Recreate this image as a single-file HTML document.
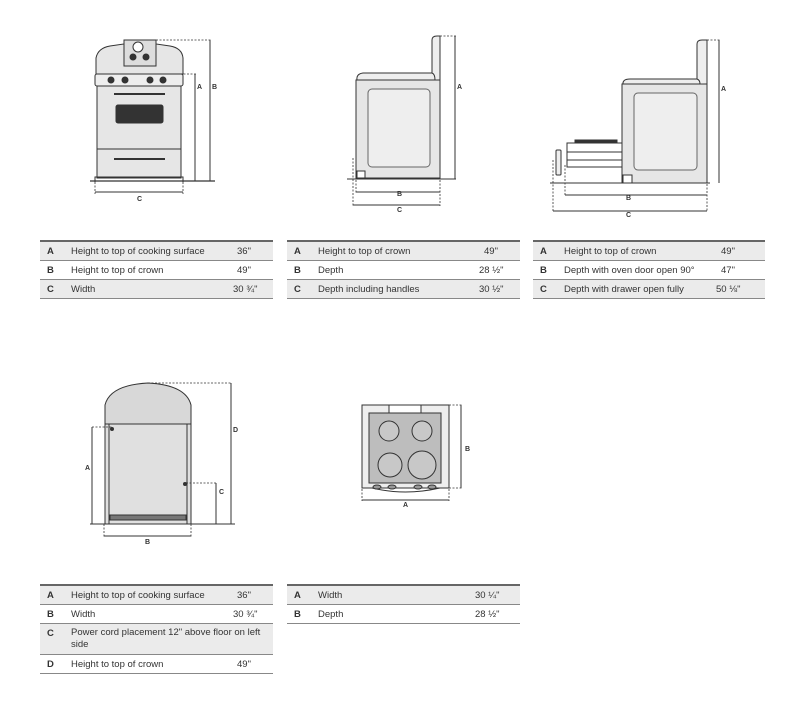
<!DOCTYPE html>
<html><head><style>
body{margin:0;width:800px;height:705px;background:#fff;font-family:"Liberation Sans",sans-serif;position:relative;overflow:hidden}
svg{position:absolute;left:0;top:0}
.t{position:absolute;border-top:2px solid #666;font-size:9.5px;color:#333}
.r{position:relative;height:19px;border-bottom:1.5px solid #888;box-sizing:border-box}
.g{background:#ebebeb}
.r span{position:absolute;top:4px}
.k{left:7px;font-weight:bold}
.l{left:31px}
</style></head><body>
<svg width="800" height="705" viewBox="0 0 800 705" font-family="Liberation Sans" font-size="7" fill="none" stroke="#333">
<!-- Drawing 1 -->
<g stroke-width="1">
<path d="M96 74 L96 58 Q98 48 110 46 L124 44 L124 40 L156 40 L156 44 L170 46 Q182 48 183 58 L183 74 Z" fill="#e6e6e6"/>
<rect x="124" y="40" width="32" height="26" fill="#ddd"/>
<circle cx="138" cy="47" r="5" fill="#fff"/>
<circle cx="133" cy="57" r="3" fill="#333"/><circle cx="146" cy="57" r="3" fill="#333"/>
<rect x="95" y="74" width="88" height="12" rx="2" fill="#eee"/>
<circle cx="111" cy="80" r="3" fill="#333"/><circle cx="125" cy="80" r="3" fill="#333"/><circle cx="150" cy="80" r="3" fill="#333"/><circle cx="163" cy="80" r="3" fill="#333"/>
<rect x="97" y="86" width="84" height="63" fill="#e6e6e6"/>
<line x1="114" y1="94" x2="165" y2="94" stroke-width="2"/>
<rect x="116" y="105" width="47" height="18" rx="2" fill="#333"/>
<rect x="97" y="149" width="84" height="29" fill="#e6e6e6"/>
<line x1="114" y1="159" x2="165" y2="159" stroke-width="2"/>
<path d="M95 182 L95 177 L183 177 L183 182"/>
<line x1="90" y1="181" x2="215" y2="181" stroke-width="1.2"/>
</g>
<g stroke-dasharray="2,1.5" stroke-width="0.8"><line x1="156" y1="40" x2="212" y2="40"/><line x1="180" y1="74" x2="197" y2="74"/><line x1="95" y1="182" x2="95" y2="194"/><line x1="183" y1="182" x2="183" y2="194"/></g>
<g stroke-width="1"><line x1="195" y1="74" x2="195" y2="181"/><line x1="210" y1="40" x2="210" y2="181"/><line x1="95" y1="192" x2="183" y2="192"/></g>
<!-- Drawing 2 -->
<g stroke-width="1">
<path d="M432 78 L432 40 Q432 36 437 36 L440 36 L440 80" fill="#eee"/>
<path d="M357 80 Q356 74 363 73 L432 73 Q435 74 435 80" fill="#eee"/>
<rect x="356" y="80" width="84" height="98" fill="#e6e6e6"/>
<rect x="368" y="89" width="62" height="78" rx="4" fill="#eee" stroke="#666"/>
<rect x="357" y="171" width="8" height="7" fill="#fff"/>
<line x1="347" y1="179" x2="456" y2="179"/>
<line x1="455" y1="36" x2="455" y2="179"/>
<line x1="356" y1="192" x2="440" y2="192"/><line x1="353" y1="205" x2="440" y2="205"/>
</g>
<g stroke-dasharray="2,1.5" stroke-width="0.8"><line x1="440" y1="36" x2="456" y2="36"/><line x1="353" y1="158" x2="353" y2="206"/><line x1="356" y1="180" x2="356" y2="193"/><line x1="440" y1="180" x2="440" y2="206"/></g>
<!-- Drawing 3 -->
<g stroke-width="1">
<path d="M697 82 L697 44 Q697 40 702 40 L707 40 L707 84" fill="#eee"/>
<path d="M623 85 Q622 79 630 79 L697 79 Q700 80 700 84" fill="#eee"/>
<rect x="622" y="84" width="85" height="99" fill="#e6e6e6"/>
<rect x="634" y="93" width="63" height="77" rx="4" fill="#eee" stroke="#666"/>
<rect x="623" y="175" width="9" height="8" fill="#fff"/>
<path d="M567 143 L622 143 L622 167 L567 167 Z" fill="#fff"/>
<rect x="575" y="140" width="42" height="3" fill="#333"/>
<line x1="567" y1="152" x2="622" y2="152"/><line x1="567" y1="160" x2="622" y2="160"/>
<rect x="556" y="150" width="5" height="25" rx="1" fill="#eee"/>
<line x1="550" y1="183" x2="710" y2="183"/>
<line x1="719" y1="40" x2="719" y2="183"/>
<line x1="565" y1="195" x2="707" y2="195"/><line x1="553" y1="211" x2="707" y2="211"/>
</g>
<g stroke-dasharray="2,1.5" stroke-width="0.8"><line x1="707" y1="40" x2="720" y2="40"/><line x1="553" y1="160" x2="553" y2="212"/><line x1="565" y1="165" x2="565" y2="196"/><line x1="707" y1="184" x2="707" y2="212"/></g>
<!-- Drawing 4 -->
<g stroke-width="1">
<path d="M105 424 L105 405 Q110 385 148 383 Q186 385 191 405 L191 424 Z" fill="#d8d8d8"/>
<rect x="105" y="424" width="86" height="100" fill="#e0e0e0"/>
<line x1="109" y1="424" x2="109" y2="524"/><line x1="187" y1="424" x2="187" y2="524"/>
<rect x="110" y="515" width="76" height="5" fill="#777"/>
<circle cx="112" cy="429" r="1.5" fill="#333"/><circle cx="185" cy="484" r="1.5" fill="#333"/>
<line x1="90" y1="524" x2="235" y2="524"/>
<line x1="92" y1="427" x2="92" y2="524"/><line x1="216" y1="483" x2="216" y2="524"/><line x1="231" y1="383" x2="231" y2="524"/>
<line x1="104" y1="536" x2="191" y2="536"/>
</g>
<g stroke-dasharray="2,1.5" stroke-width="0.8"><line x1="148" y1="383" x2="232" y2="383"/><line x1="92" y1="427" x2="112" y2="427"/><line x1="186" y1="483" x2="217" y2="483"/><line x1="104" y1="524" x2="104" y2="537"/><line x1="191" y1="524" x2="191" y2="537"/></g>
<!-- Drawing 5 -->
<g stroke-width="1">
<rect x="362" y="405" width="87" height="83" fill="#eee"/>
<rect x="389" y="405" width="32" height="8" fill="#fff"/>
<rect x="369" y="413" width="72" height="70" fill="#bdbdbd"/>
<circle cx="389" cy="431" r="10" fill="#c8c8c8"/><circle cx="422" cy="431" r="10" fill="#c8c8c8"/>
<circle cx="390" cy="465" r="12" fill="#c8c8c8"/><circle cx="422" cy="465" r="14" fill="#c8c8c8"/>
<path d="M372 488 Q405 496 440 488" /><ellipse cx="377" cy="487" rx="4" ry="2" fill="#999"/><ellipse cx="392" cy="487" rx="4" ry="2" fill="#999"/><ellipse cx="418" cy="487" rx="4" ry="2" fill="#999"/><ellipse cx="432" cy="487" rx="4" ry="2" fill="#999"/>
<line x1="461" y1="405" x2="461" y2="488"/><line x1="362" y1="500" x2="449" y2="500"/>
</g>
<g stroke-dasharray="2,1.5" stroke-width="0.8"><line x1="449" y1="405" x2="462" y2="405"/><line x1="449" y1="488" x2="462" y2="488"/><line x1="362" y1="489" x2="362" y2="501"/><line x1="449" y1="489" x2="449" y2="501"/></g>
<g fill="#333" stroke="none" font-weight="bold">
<text x="197" y="89">A</text><text x="212" y="89">B</text><text x="137" y="201">C</text>
<text x="457" y="89">A</text><text x="397" y="196">B</text><text x="397" y="212">C</text>
<text x="721" y="91">A</text><text x="626" y="200">B</text><text x="626" y="217">C</text>
<text x="85" y="470">A</text><text x="219" y="494">C</text><text x="233" y="432">D</text><text x="145" y="544">B</text>
<text x="465" y="451">B</text><text x="403" y="507">A</text>
</g>
</svg>
<div class="t" style="left:40px;top:240px;width:233px">
<div class="r g"><span class="k">A</span><span class="l">Height to top of cooking surface</span><span style="left:197px">36"</span></div>
<div class="r"><span class="k">B</span><span class="l">Height to top of crown</span><span style="left:197px">49"</span></div>
<div class="r g"><span class="k">C</span><span class="l">Width</span><span style="left:193px">30 ¾"</span></div>
</div>
<div class="t" style="left:287px;top:240px;width:233px">
<div class="r g"><span class="k">A</span><span class="l">Height to top of crown</span><span style="left:197px">49"</span></div>
<div class="r"><span class="k">B</span><span class="l">Depth</span><span style="left:192px">28 ½"</span></div>
<div class="r g"><span class="k">C</span><span class="l">Depth including handles</span><span style="left:192px">30 ½"</span></div>
</div>
<div class="t" style="left:533px;top:240px;width:232px">
<div class="r g"><span class="k">A</span><span class="l">Height to top of crown</span><span style="left:188px">49"</span></div>
<div class="r"><span class="k">B</span><span class="l">Depth with oven door open 90°</span><span style="left:188px">47"</span></div>
<div class="r g"><span class="k">C</span><span class="l">Depth with drawer open fully</span><span style="left:183px">50 ⅛"</span></div>
</div>
<div class="t" style="left:40px;top:584px;width:233px">
<div class="r g"><span class="k">A</span><span class="l">Height to top of cooking surface</span><span style="left:197px">36"</span></div>
<div class="r"><span class="k">B</span><span class="l">Width</span><span style="left:193px">30 ¾"</span></div>
<div class="r g" style="height:31px"><span class="k">C</span><span class="l" style="width:190px;line-height:12px;top:3px">Power cord placement 12" above floor on left side</span></div>
<div class="r"><span class="k">D</span><span class="l">Height to top of crown</span><span style="left:197px">49"</span></div>
</div>
<div class="t" style="left:287px;top:584px;width:233px">
<div class="r g"><span class="k">A</span><span class="l">Width</span><span style="left:188px">30 ¼"</span></div>
<div class="r"><span class="k">B</span><span class="l">Depth</span><span style="left:188px">28 ½"</span></div>
</div>
</body></html>
